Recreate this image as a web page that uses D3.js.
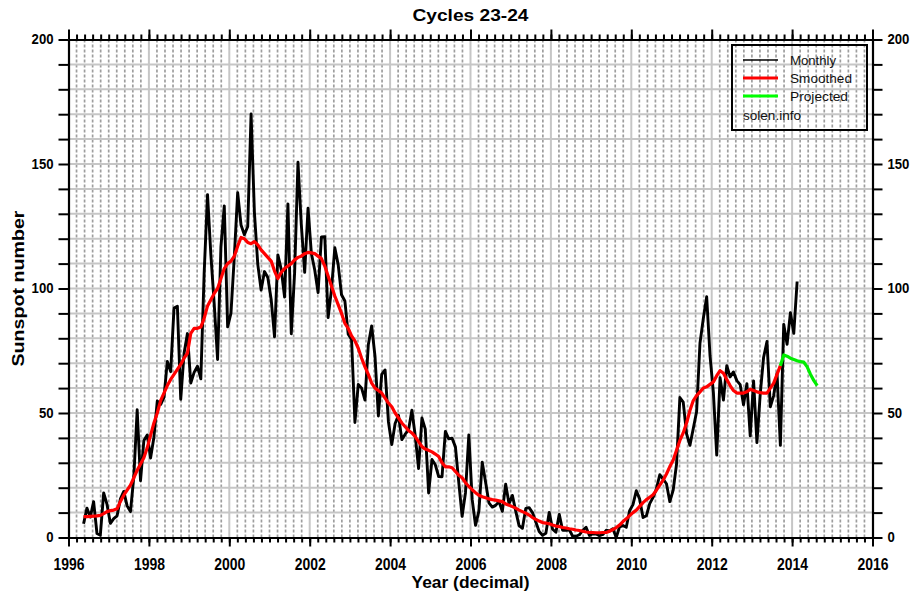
<!DOCTYPE html>
<html><head><meta charset="utf-8">
<script src="https://cdn.jsdelivr.net/npm/d3@7"></script>
<style>body{margin:0;background:#fff}svg{display:block}</style>
</head><body><svg id="c" width="911" height="596"></svg>
<script>
// ---- data ----
const monthlyStart = [1996, 5];   // first monthly value: May 1996
const monthlySSN = [
  5.5, 11.8, 8.2, 14.4, 1.6, 0.9, 17.9, 13.3,
  5.7, 7.6, 8.7, 15.5, 18.5, 12.7, 10.4, 24.4, 51.3, 22.8, 39.0, 41.2,
  31.9, 40.3, 54.8, 53.4, 56.3, 70.7, 66.6, 92.2, 92.9, 55.5, 74.0, 81.9,
  62.0, 66.3, 68.8, 63.7, 106.4, 137.7, 113.5, 93.7, 71.5, 116.7, 133.2, 84.6,
  90.1, 112.9, 138.5, 125.5, 121.6, 124.9, 170.1, 130.5, 109.7, 99.4, 106.8, 104.4,
  95.6, 80.6, 113.5, 107.7, 96.6, 134.0, 81.8, 106.4, 150.7, 125.5, 106.5, 132.2,
  114.1, 107.4, 98.4, 120.7, 120.8, 88.3, 99.6, 116.4, 109.6, 97.5, 95.0, 81.6,
  79.5, 46.2, 61.5, 60.0, 55.2, 77.4, 85.0, 72.7, 48.8, 65.5, 67.3, 46.5,
  37.3, 45.8, 49.1, 39.3, 41.5, 43.2, 51.1, 40.9, 27.7, 48.0, 43.5, 17.9,
  31.3, 29.2, 24.5, 24.4, 42.6, 39.6, 39.9, 36.4, 22.1, 8.5, 18.0, 41.2,
  15.3, 4.9, 10.6, 30.2, 22.3, 13.9, 12.2, 12.9, 14.4, 10.5, 21.4, 13.6,
  16.9, 10.6, 4.8, 3.7, 11.7, 12.0, 10.0, 6.2, 2.4, 0.9, 1.7, 10.1,
  3.3, 2.1, 9.3, 2.9, 2.9, 3.1, 0.5, 0.5, 1.1, 2.9, 4.1, 0.8,
  1.5, 1.4, 0.7, 1.2, 2.9, 2.6, 3.5, 0.0, 4.3, 4.8, 4.1, 10.8,
  13.2, 18.8, 15.4, 8.0, 8.7, 13.6, 16.1, 19.6, 25.2, 23.5, 21.6, 14.4,
  19.0, 29.4, 56.2, 54.4, 41.6, 37.0, 43.8, 50.6, 78.0, 88.0, 96.7, 73.0,
  58.3, 33.1, 64.2, 55.2, 69.0, 64.5, 66.5, 63.0, 61.4, 53.3, 61.8, 40.8,
  62.9, 38.1, 57.9, 72.4, 78.7, 52.5, 57.0, 66.0, 37.0, 85.6, 77.6, 90.3,
  82.0, 102.8
];
const smoothedStart = [1996, 5];
const smoothedSSN = [
  8.4, 8.4, 8.5, 8.6, 8.7, 8.9, 9.6, 10.4,
  10.8, 11.0, 11.5, 14.5, 17.0, 19.0, 21.0, 24.0, 27.0, 29.5, 32.0, 36.0,
  41.0, 46.0, 50.0, 55.0, 58.0, 61.0, 63.5, 65.5, 67.5, 69.5, 72.0, 74.0,
  82.0, 84.0, 84.0, 84.5, 88.0, 93.0, 95.5, 98.0, 100.0, 104.0, 108.0, 110.0,
  111.0, 113.0, 117.0, 120.5, 120.0, 118.5, 118.0, 118.8, 117.5, 115.5, 114.0, 112.5,
  111.0, 107.0, 104.0, 106.5, 108.0, 109.0, 110.0, 111.5, 112.5, 113.0, 114.0, 114.5,
  114.3, 114.0, 113.0, 112.0, 109.0, 105.0, 101.0, 97.0, 93.5, 90.0, 86.0, 84.0,
  81.0, 79.0, 76.0, 72.0, 68.5, 65.5, 62.0, 60.0, 59.0, 58.0, 56.0, 54.0,
  52.5, 50.0, 48.0, 46.0, 44.5, 43.0, 42.0, 40.5, 38.5, 36.5, 35.5, 35.0,
  34.4, 33.5, 32.5, 30.0, 28.4, 28.4, 28.0, 26.5, 25.0, 24.0, 22.0, 20.5,
  19.2, 18.0, 17.0, 16.4, 16.0, 15.5, 15.2, 15.0, 14.7, 14.4, 13.5, 13.0,
  12.4, 11.8, 11.0, 10.4, 9.8, 9.0, 8.0, 7.3, 6.6, 6.0, 5.8, 5.5,
  5.0, 4.6, 4.4, 4.0, 3.8, 3.5, 3.3, 3.0, 2.8, 2.5, 2.2, 2.0,
  2.0, 1.9, 1.9, 2.0, 2.0, 2.5, 3.2, 4.0, 5.0, 6.4, 7.5, 8.8,
  10.0, 11.0, 12.5, 14.0, 15.2, 16.2, 17.2, 19.0, 21.0, 23.0, 25.5, 28.5,
  31.0, 35.0, 39.0, 42.0, 46.0, 51.0, 55.0, 57.0, 58.5, 60.0, 60.5, 61.5,
  62.5, 65.0, 67.0, 66.0, 63.5, 61.0, 59.0, 58.0, 58.0, 58.0, 58.5, 59.5,
  59.0, 58.5, 58.2, 58.0, 58.0, 60.0, 62.0, 65.5, 69.0
];
const projectedStart = [2013, 9];
const projectedSSN = [69.0, 73.3, 72.8, 72.0, 71.5, 71.0, 70.6, 70.4, 68.5, 65.5, 63.0, 61.0];

const xDomain = [1996, 2016];
const yDomain = [0, 200];
const xLabelYears = [1996, 1998, 2000, 2002, 2004, 2006, 2008, 2010, 2012, 2014, 2016];
const yLabelValues = [0, 50, 100, 150, 200];
const legendLabels = ["Monthly", "Smoothed", "Projected"];
const legendColors = ["#000000", "#ff0000", "#00ff00"];
const titleText = "Cycles 23-24";
const xTitle = "Year (decimal)";
const yTitle = "Sunspot number";
const creditText = "solen.info";

// ---- layout ----
const L = 68.5, R = 872.5, T = 39.5, B = 537.5;
const svg = d3.select("#c");
const x = d3.scaleLinear().domain(xDomain).range([L, R]);
const y = d3.scaleLinear().domain(yDomain).range([B, T]);
const FONT = "'Liberation Sans Narrow','Arial Narrow','Liberation Sans',Arial,sans-serif";

function toSeries(start, vals) {
  return vals.map((v, i) => ({ t: start[0] + (start[1] - 1 + i + 0.5) / 12, v }));
}

// minor grid (dotted)
const minorYears = d3.range(0, 101).map(i => xDomain[0] + i * 0.2).filter(v => Math.abs(v / 2 - Math.round(v / 2)) > 1e-6);
svg.append("g").selectAll("line").data(minorYears).join("line")
  .attr("x1", d => x(d)).attr("x2", d => x(d)).attr("y1", T).attr("y2", B)
  .attr("stroke", "#9e9e9e").attr("stroke-width", 1.7).attr("stroke-dasharray", "3,2");
// major grid (solid)
const majorYears = d3.range(xDomain[0] + 2, xDomain[1], 2);
svg.append("g").selectAll("line").data(majorYears).join("line")
  .attr("x1", d => x(d)).attr("x2", d => x(d)).attr("y1", T).attr("y2", B)
  .attr("stroke", "#c6c6c6").attr("stroke-width", 2);
const hVals = d3.range(10, 200, 10);
svg.append("g").selectAll("line").data(hVals).join("line")
  .attr("x1", L).attr("x2", R).attr("y1", d => y(d)).attr("y2", d => y(d))
  .attr("stroke", "#c6c6c6").attr("stroke-width", 2);

// data lines
const line = d3.line().x(d => x(d.t)).y(d => y(d.v));
svg.append("path").datum(toSeries(monthlyStart, monthlySSN)).attr("d", line)
  .attr("fill", "none").attr("stroke", "#000").attr("stroke-width", 2.9).attr("stroke-linejoin", "round");
svg.append("path").datum(toSeries(smoothedStart, smoothedSSN)).attr("d", line)
  .attr("fill", "none").attr("stroke", "#ff0000").attr("stroke-width", 3.2).attr("stroke-linejoin", "round");
svg.append("path").datum(toSeries(projectedStart, projectedSSN)).attr("d", line)
  .attr("fill", "none").attr("stroke", "#00ee00").attr("stroke-width", 3.2).attr("stroke-linejoin", "round");

// axes
function styleAxis(g) {
  g.select(".domain").attr("stroke", "#000").attr("stroke-width", 2.2);
  g.selectAll(".tick line").attr("stroke", "#000").attr("stroke-width", 2);
}
const minorTicks = d3.range(0, 101).map(i => xDomain[0] + i * 0.2);
// bottom minor + major
svg.append("g").attr("transform", `translate(0,${B})`)
  .call(d3.axisBottom(x).tickValues(minorTicks).tickSize(5).tickSizeOuter(0).tickFormat(""))
  .call(styleAxis);
const gb = svg.append("g").attr("transform", `translate(0,${B})`)
  .call(d3.axisBottom(x).tickValues(xLabelYears).tickSize(9).tickSizeOuter(0).tickPadding(12).tickFormat(d3.format("d")))
  .call(styleAxis);
gb.selectAll("text").attr("font-family", FONT).attr("font-weight", "bold").attr("font-size", 16).attr("fill", "#000")
  .attr("textLength", 31).attr("lengthAdjust", "spacingAndGlyphs");
// top
svg.append("g").attr("transform", `translate(0,${T})`)
  .call(d3.axisTop(x).tickValues(minorTicks).tickSize(5).tickSizeOuter(0).tickFormat(""))
  .call(styleAxis);
svg.append("g").attr("transform", `translate(0,${T})`)
  .call(d3.axisTop(x).tickValues(xLabelYears).tickSize(10).tickSizeOuter(0).tickFormat(""))
  .call(styleAxis);
// left/right
const yTicks = d3.range(0, 201, 10);
const yFmt = d => yLabelValues.includes(d) ? String(d) : "";
const gl = svg.append("g").attr("transform", `translate(${L},0)`)
  .call(d3.axisLeft(y).tickValues(yTicks).tickSize(10).tickSizeOuter(0).tickPadding(5).tickFormat(yFmt))
  .call(styleAxis);
const gr = svg.append("g").attr("transform", `translate(${R},0)`)
  .call(d3.axisRight(y).tickValues(yTicks).tickSize(10).tickSizeOuter(0).tickPadding(5).tickFormat(yFmt))
  .call(styleAxis);
[gl, gr].forEach(g => g.selectAll("text")
  .attr("font-family", FONT).attr("font-weight", "bold").attr("font-size", 14).attr("fill", "#000")
  .each(function(d) { const s = yFmt(d); if (s) d3.select(this).attr("textLength", s.length * 7.3).attr("lengthAdjust", "spacingAndGlyphs"); }));

// titles
svg.append("text").attr("x", (L + R) / 2).attr("y", 21).attr("text-anchor", "middle")
  .attr("font-family", FONT).attr("font-weight", "bold").attr("font-size", 17)
  .attr("textLength", 116).attr("lengthAdjust", "spacingAndGlyphs").text(titleText);
svg.append("text").attr("x", (L + R) / 2).attr("y", 588).attr("text-anchor", "middle")
  .attr("font-family", FONT).attr("font-weight", "bold").attr("font-size", 17)
  .attr("textLength", 118).attr("lengthAdjust", "spacingAndGlyphs").text(xTitle);
svg.append("text").attr("transform", `translate(24,${(T + B) / 2}) rotate(-90)`).attr("text-anchor", "middle")
  .attr("font-family", FONT).attr("font-weight", "bold").attr("font-size", 17)
  .attr("textLength", 156).attr("lengthAdjust", "spacingAndGlyphs").text(yTitle);

// legend
const lg = svg.append("g");
lg.append("rect").attr("x", 732).attr("y", 45).attr("width", 135).attr("height", 85)
  .attr("fill", "none").attr("stroke", "#000").attr("stroke-width", 2);
const legW = [46, 62, 58];
legendLabels.forEach((lab, i) => {
  const yy = 60 + i * 18;
  lg.append("line").attr("x1", 743).attr("x2", 778).attr("y1", yy).attr("y2", yy)
    .attr("stroke", legendColors[i]).attr("stroke-width", i === 0 ? 1.6 : 3);
  lg.append("text").attr("x", 790).attr("y", yy + 4.5).attr("font-family", FONT).attr("font-size", 12.5)
    .attr("fill", "#111").attr("textLength", legW[i]).attr("lengthAdjust", "spacingAndGlyphs").text(lab);
});
lg.append("text").attr("x", 743).attr("y", 120).attr("font-family", FONT).attr("font-size", 12.5)
  .attr("fill", "#111").attr("textLength", 58).attr("lengthAdjust", "spacingAndGlyphs").text(creditText);
</script></body></html>
